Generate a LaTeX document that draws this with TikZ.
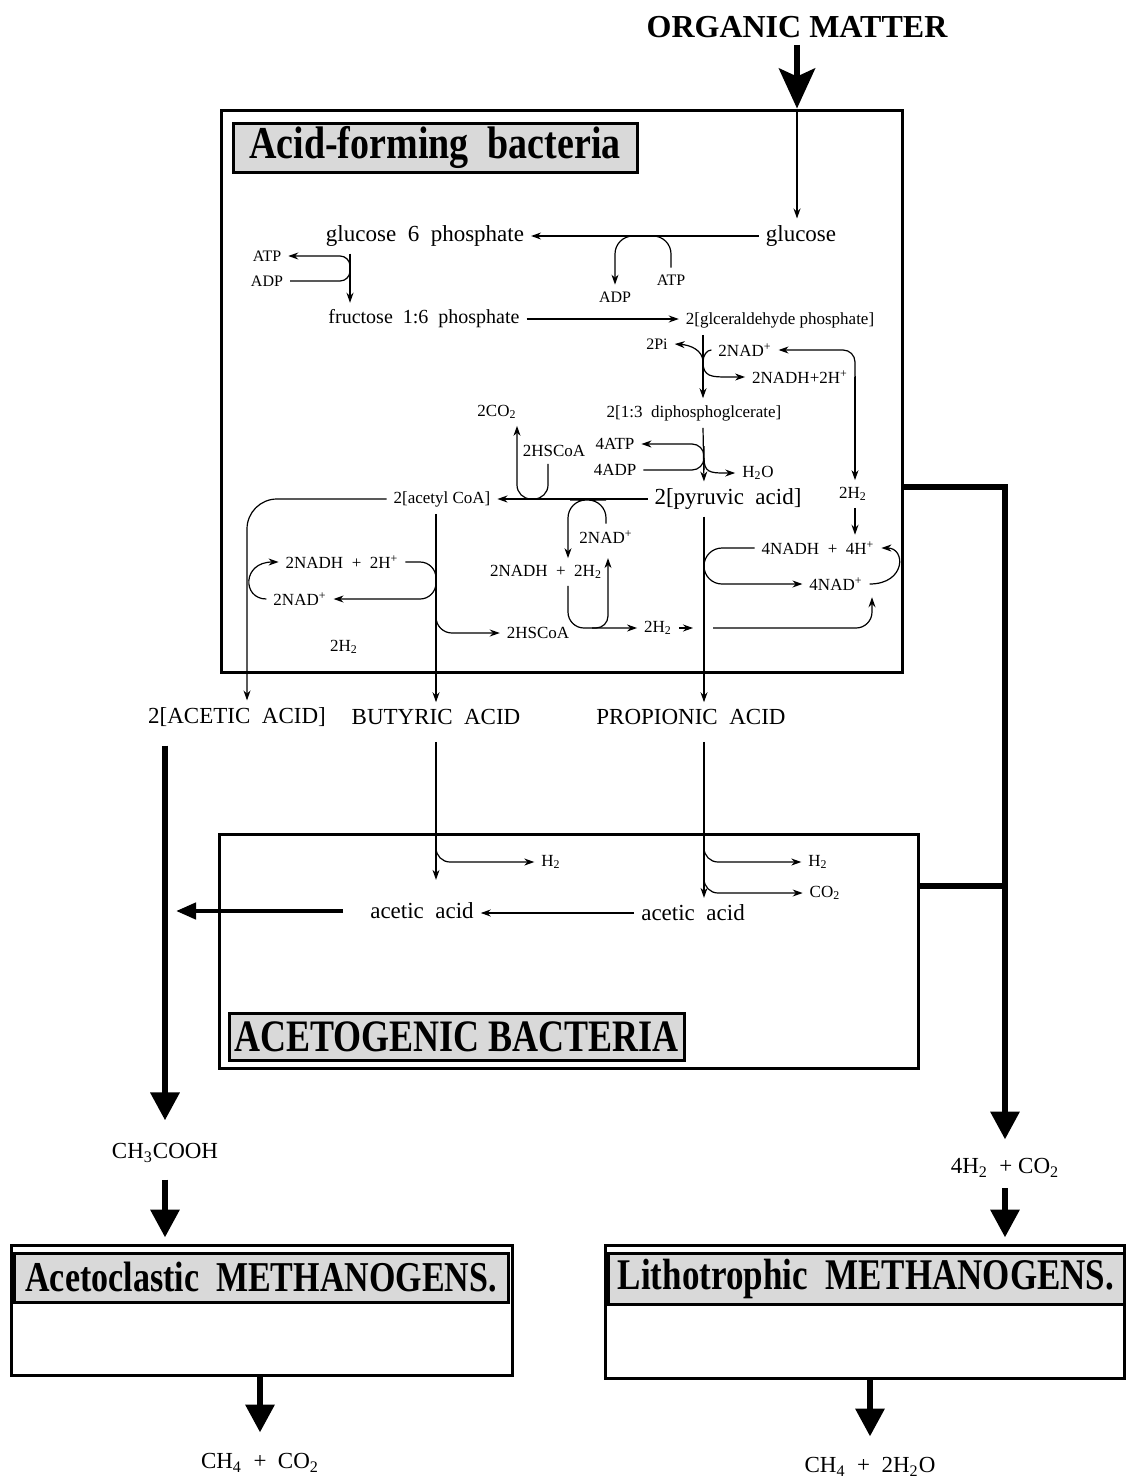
\documentclass[tikz,border=0pt]{standalone}
\usepackage{fontspec}
\setmainfont{Liberation Serif}
\usetikzlibrary{arrows.meta}

\begin{document}
\begin{tikzpicture}[x=0.5pt,y=-0.5pt,
  bigtxt/.style={font=\fontsize{11.5}{13}\selectfont},
  midtxt/.style={font=\fontsize{10}{12}\selectfont},
  smltxt/.style={font=\fontsize{8.5}{10}\selectfont},
  tnytxt/.style={font=\fontsize{8}{9}\selectfont},
  thinline/.style={line width=0.6pt},
  thinarrow/.style={line width=0.6pt,-{Stealth[length=5pt,width=3.5pt]}},
  heavy/.style={line width=3.2pt},
  heavyarrow/.style={line width=3.2pt,-{Triangle[length=14pt,width=14pt]}},
  midarrow/.style={line width=2.2pt,-{Triangle[length=10pt,width=8pt]}},
  toparrow/.style={line width=3pt,-{Stealth[length=20pt,width=18pt,inset=4pt]}},
  outerbox/.style={draw,line width=1.5pt,inner sep=0pt},
  headbox/.style={draw,line width=1.5pt,fill=gray!30,inner sep=0pt}]
\useasboundingbox (0,0) rectangle (1127,1483);

\node[font=\fontsize{16}{18}\selectfont\bfseries] (organic) at (797,27) {ORGANIC MATTER};

\node[outerbox, minimum width=340.5pt, minimum height=281pt] (acidbox) at (561.5,391) {};
\node[headbox, minimum width=202pt, minimum height=24.5pt, font=\fontsize{19}{21}\selectfont\bfseries] (acidhead) at (435,147.5) {\scalebox{1}[1.2]{Acid-forming\ \ bacteria}};

\node[bigtxt] (glucose) at (801,236) {glucose};
\node[bigtxt] (g6p) at (425,236) {glucose\ \ 6\ \ phosphate};
\node[tnytxt] (atpl) at (267,256) {ATP};
\node[tnytxt] (adpl) at (267,281) {ADP};
\node[tnytxt] (atpm) at (671,280) {ATP};
\node[tnytxt] (adpm) at (615,297) {ADP};
\node[midtxt] (fructose) at (424,319) {fructose\ \ 1:6\ \ phosphate};
\node[smltxt] (gap) at (780,320) {2[glceraldehyde phosphate]};

\node[tnytxt] (pi) at (657,344) {2Pi};
\node[smltxt] (nad2) at (745,350) {2NAD\textsuperscript{+}};
\node[smltxt] (nadh2) at (800,377) {2NADH+2H\textsuperscript{+}};
\node[smltxt] (diphos) at (694,413) {2[1:3\ \ diphosphoglcerate]};
\node[smltxt] (co2a) at (497,412) {2CO\textsubscript{2}};
\node[smltxt] (hscoa) at (554,451) {2HSCoA};
\node[smltxt] (atp4) at (615,444) {4ATP};
\node[smltxt] (adp4) at (615,470) {4ADP};
\node[smltxt] (h2o) at (758,473) {H\textsubscript{2}O};
\node[bigtxt] (pyruvic) at (728,499) {2[pyruvic\ \ acid]};
\node[smltxt] (acetyl) at (442,499) {2[acetyl\ CoA]};
\node[smltxt] (h2r) at (853,494) {2H\textsubscript{2}};

\node[smltxt] (nadh4) at (818,548) {4NADH\ \ +\ \ 4H\textsuperscript{+}};
\node[smltxt] (nad4) at (836,584) {4NAD\textsuperscript{+}};
\node[smltxt] (nadm) at (606,537) {2NAD\textsuperscript{+}};
\node[smltxt] (nadhm) at (546,572) {2NADH\ \ +\ \ 2H\textsubscript{2}};
\node[smltxt] (hscoab) at (538,633) {2HSCoA};
\node[smltxt] (h2m) at (658,628) {2H\textsubscript{2}};
\node[smltxt] (nadhl) at (342,562) {2NADH\ \ +\ \ 2H\textsuperscript{+}};
\node[smltxt] (nadl) at (300,599) {2NAD\textsuperscript{+}};
\node[smltxt] (h2l) at (344,647) {2H\textsubscript{2}};

\node[bigtxt] (acetic2) at (237,717) {2[ACETIC\ \ ACID]};
\node[bigtxt] (butyric) at (436,717) {BUTYRIC\ \ ACID};
\node[bigtxt] (propionic) at (691,717) {PROPIONIC\ \ ACID};

\node[outerbox, minimum width=349.5pt, minimum height=117pt] (acetobox) at (568.5,951) {};
\node[headbox, minimum width=227.5pt, minimum height=23.5pt, font=\fontsize{18}{20}\selectfont\bfseries] (acetohead) at (456.5,1036.5) {\scalebox{1}[1.25]{ACETOGENIC\ BACTERIA}};
\node[smltxt] (h2a) at (551,862) {H\textsubscript{2}};
\node[smltxt] (h2b) at (818,862) {H\textsubscript{2}};
\node[smltxt] (co2b) at (825,893) {CO\textsubscript{2}};
\node[bigtxt] (aceticR) at (693,913) {acetic\ \ acid};
\node[bigtxt] (aceticL) at (422,911) {acetic\ \ acid};

\node[bigtxt] (ch3cooh) at (165,1153) {CH\textsubscript{3}COOH};
\node[bigtxt] (h2co2) at (1005,1168) {4H\textsubscript{2}\ \ +\ CO\textsubscript{2}};
\node[outerbox, minimum width=250.5pt, minimum height=65pt] (acetoclastic) at (261.5,1310) {};
\node[headbox, minimum width=247pt, minimum height=24.5pt, font=\fontsize{17}{19}\selectfont\bfseries] (acetoclhead) at (261,1277.5) {\scalebox{1}[1.25]{Acetoclastic\ \ METHANOGENS.}};
\node[outerbox, minimum width=259.5pt, minimum height=66.5pt] (litho) at (864.5,1311.5) {};
\node[headbox, minimum width=258pt, minimum height=25.5pt, font=\fontsize{17.5}{19}\selectfont\bfseries] (lithohead) at (866,1278.5) {\scalebox{1}[1.25]{Lithotrophic\ \ METHANOGENS.}};
\node[bigtxt] (ch4co2) at (260,1463) {CH\textsubscript{4}\ \ +\ \ CO\textsubscript{2}};
\node[bigtxt] (ch4h2o) at (870,1467) {CH\textsubscript{4}\ \ +\ \ 2H\textsubscript{2}O};

\coordinate (j1) at (703,362);
\coordinate (nadbus) at (855,377);
\coordinate (j2) at (704,458);
\coordinate (j3) at (592,628);
\coordinate (jb1) at (436,580);
\coordinate (jb2) at (436,606);
\coordinate (jp1) at (704,567);
\coordinate (jp2) at (693,628);
\coordinate (jp3) at (713,628);
\coordinate (jb3) at (436,845);
\coordinate (jp4) at (704,846);
\coordinate (jp5) at (704,876);
\coordinate (aceend) at (176,911);
\coordinate (busjoin) at (1005,886);

\draw[toparrow] (organic.south) -- (organic.south |- acidbox.north);
\draw[thinarrow] (organic.south |- acidbox.north) -- (glucose.north -| organic);
\draw[thinarrow] (glucose.west) -- (g6p.east);
\draw[thinarrow, rounded corners=9pt] (atpm.north) |- (642,236) -| (adpm.north);
\draw[thinarrow, rounded corners=5pt] (adpl.east) -| (350,268) |- (atpl.east);
\draw[thinarrow] ([xshift=-37.5pt]g6p.south) -- ([xshift=-37pt]fructose.north);
\draw[thinarrow] (fructose.east) -- (fructose.east -| gap.west);
\draw[thinarrow] ([xshift=-38.5pt]gap.south) -- ([xshift=4.5pt]diphos.north);
\draw[thinarrow] (j1) .. controls (703,350) and (690,345) .. (pi.east);
\draw[thinline] (nad2.west) .. controls (707,350) and (703,355) .. (j1);
\draw[thinarrow] (j1) .. controls (703,377) and (712,377) .. (728,377) -- (nadh2.west);
\draw[thinline] (nadh2.east) -- (nadbus);
\draw[thinarrow, rounded corners=6pt] (nadbus) |- (nad2.east);
\draw[thinarrow] (nadbus) -- (h2r.north -| nadbus);
\draw[thinarrow] (h2r.south -| nadbus) -- (nadh4.north -| nadbus);

\draw[thinarrow] ([xshift=4.5pt]diphos.south) -- ([xshift=-12pt]pyruvic.north);
\draw[thinarrow, rounded corners=6pt] (adp4.east) -| (j2) |- (atp4.east);
\draw[thinarrow] (j2) .. controls (704,472) and (710,473) .. (724,473) -- (h2o.west);
\draw[thinarrow] (pyruvic.west) -- (acetyl.east);
\draw[thinarrow, rounded corners=7pt] ([xshift=-3pt]hscoa.south) |- (530,499) -| ([xshift=10pt]co2a.south);

\draw[thinarrow, rounded corners=9pt] (nadm.north) |- (588,500) -| ([xshift=11pt]nadhm.north);
\draw[thinarrow, rounded corners=8pt] ([xshift=11pt]nadhm.south) |- (h2m.west);
\draw[thinarrow, rounded corners=6pt] (j3) -| ([xshift=31pt]nadhm.north);

\draw[thinarrow] (acetyl.south -| butyric) -- (butyric.north);
\draw[thinarrow, rounded corners=8pt] (nadhl.east) -| (jb1) |- (nadl.east);
\draw[thinarrow] (nadl.west) .. controls (242,599) and (242,562) .. (nadhl.west);
\draw[thinarrow, rounded corners=8pt] (jb2) |- (hscoab.west);

\draw[thinarrow, rounded corners=9pt] (nadh4.west) -| (jp1) |- (nad4.west);
\draw[thinarrow] (nad4.east) .. controls (906,584) and (906,548) .. (nadh4.east);
\draw[thinarrow] (h2m.east) -- (jp2);
\draw[thinarrow, rounded corners=8pt] (jp3) -| ([xshift=18pt]nad4.south);

\draw[thinarrow] ([xshift=-12pt]pyruvic.south) -- ([xshift=6.5pt]propionic.north);
\draw[thinarrow, rounded corners=15pt] (acetyl.west) -| ([xshift=5pt]acetic2.north);

\draw[thinarrow, shorten <=5pt, shorten >=8pt] (butyric.south) -- (aceticL.north -| butyric);
\draw[thinarrow, rounded corners=7pt] (jb3) |- (h2a.west);
\draw[thinarrow, shorten <=5pt] ([xshift=6.5pt]propionic.south) -- ([xshift=5.5pt]aceticR.north);
\draw[thinarrow, rounded corners=7pt] (jp4) |- (h2b.west);
\draw[thinarrow, rounded corners=7pt] (jp5) |- (co2b.west);
\draw[thinarrow] (aceticR.west) -- (aceticR.west -| aceticL.east);
\draw[midarrow, shorten <=10pt] (aceticL.west) -- (aceend);

\draw[heavyarrow, shorten <=6pt, shorten >=8pt] (acetic2.south -| ch3cooh) -- (ch3cooh.north);
\draw[heavyarrow, shorten <=5pt, shorten >=3pt] (ch3cooh.south) -- (ch3cooh.south |- acetoclastic.north);
\draw[heavyarrow, shorten >=7pt] (acetoclastic.south -| ch4co2) -- (ch4co2.north);
\draw[heavyarrow, shorten >=6pt] ([yshift=-48pt]acidbox.east) -| (h2co2.north);
\draw[heavy] ([yshift=32.5pt]acetobox.east) -- (busjoin);
\draw[heavyarrow, shorten <=2pt, shorten >=3pt] (h2co2.south) -- (h2co2.south |- litho.north);
\draw[heavyarrow, shorten >=7pt] (litho.south -| ch4h2o) -- (ch4h2o.north);
\end{tikzpicture}
\end{document}
